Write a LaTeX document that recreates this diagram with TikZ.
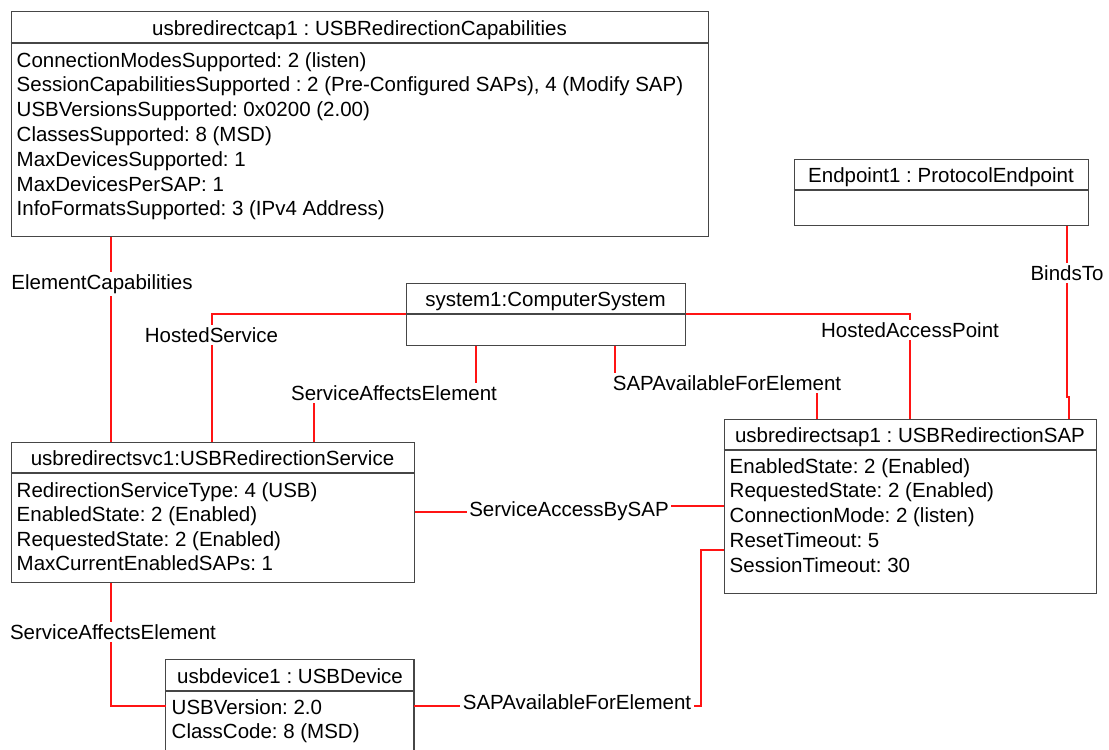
\documentclass[tikz,border=0pt]{standalone}
\usepackage{fontspec}
\setmainfont{Liberation Sans}
\definecolor{boxgray}{RGB}{70,70,70}
\definecolor{linered}{RGB}{255,20,20}
\begin{document}
\frenchspacing
\begin{tikzpicture}[x=1pt,y=-1pt,
  every node/.style={font=\fontsize{20.5}{24.8}\selectfont},
  umlbox/.style={draw=boxgray, line width=1.2pt, anchor=north west, inner sep=0pt},
  openbox/.style={anchor=north west, inner sep=0pt},
  sepline/.style={draw=boxgray, line width=2pt},
  conn/.style={draw=linered, line width=1.6pt},
  lbl/.style={fill=white, inner sep=2.5pt, anchor=base},
  ttl/.style={inner sep=0pt, anchor=base},
  attr/.style={inner sep=0pt, anchor=base west}
]
\useasboundingbox (0,0) rectangle (1109,750);

% boxes
\node[umlbox, minimum width=697pt, minimum height=225pt] (cap) at (10.5,10.5) {};
\node[umlbox, minimum width=294pt, minimum height=66pt] (ep) at (793.5,158.5) {};
\node[umlbox, minimum width=279pt, minimum height=62pt] (sys) at (405.5,282.5) {};
\node[umlbox, minimum width=403pt, minimum height=140pt] (svc) at (10.5,441.5) {};
\node[umlbox, minimum width=372pt, minimum height=174pt] (sap) at (723.5,418.5) {};
\node[openbox, minimum width=248pt, minimum height=92pt] (dev) at (165.5,659.5) {};
\draw[draw=boxgray, line width=1.2pt] (dev.south west) -- (dev.north west) -- (dev.north east) -- (dev.south east);

% header separators
\draw[sepline] ([yshift=-32.5pt]cap.north west) -- ([yshift=-32.5pt]cap.north east);
\draw[sepline] ([yshift=-31.5pt]ep.north west) -- ([yshift=-31.5pt]ep.north east);
\draw[sepline] ([yshift=-31.5pt]sys.north west) -- ([yshift=-31.5pt]sys.north east);
\draw[sepline] ([yshift=-31.5pt]svc.north west) -- ([yshift=-31.5pt]svc.north east);
\draw[sepline] ([yshift=-31.5pt]sap.north west) -- ([yshift=-31.5pt]sap.north east);
\draw[sepline] ([yshift=-31.5pt]dev.north west) -- ([yshift=-31.5pt]dev.north east);

% titles
\node[ttl] (capT) at (359.5,35) {usbredirectcap1 : USBRedirectionCapabilities};
\node[ttl] (epT) at (941,182) {Endpoint1 : ProtocolEndpoint};
\node[ttl] (sysT) at (545.5,306) {system1:ComputerSystem};
\node[ttl] (svcT) at (212.5,465) {usbredirectsvc1:USBRedirectionService};
\node[ttl] (sapT) at (910,442) {usbredirectsap1 : USBRedirectionSAP};
\node[ttl] (devT) at (290,683) {usbdevice1 : USBDevice};

% attributes
\node[attr] (capA1) at (16.5,67) {ConnectionModesSupported: 2 (listen)};
\node[attr] (capA2) at (16.5,91.8) {SessionCapabilitiesSupported : 2 (Pre-Configured SAPs), 4 (Modify SAP)};
\node[attr] (capA3) at (16.5,116.6) {USBVersionsSupported: 0x0200 (2.00)};
\node[attr] (capA4) at (16.5,141.4) {ClassesSupported: 8 (MSD)};
\node[attr] (capA5) at (16.5,166.2) {MaxDevicesSupported: 1};
\node[attr] (capA6) at (16.5,191) {MaxDevicesPerSAP: 1};
\node[attr] (capA7) at (16.5,215.8) {InfoFormatsSupported: 3 (IPv4 Address)};

\node[attr] (svcA1) at (16.5,497) {RedirectionServiceType: 4 (USB)};
\node[attr] (svcA2) at (16.5,521.6) {EnabledState: 2 (Enabled)};
\node[attr] (svcA3) at (16.5,546.2) {RequestedState: 2 (Enabled)};
\node[attr] (svcA4) at (16.5,570.8) {MaxCurrentEnabledSAPs: 1};

\node[attr] (sapA1) at (729.5,473) {EnabledState: 2 (Enabled)};
\node[attr] (sapA2) at (729.5,497.8) {RequestedState: 2 (Enabled)};
\node[attr] (sapA3) at (729.5,522.6) {ConnectionMode: 2 (listen)};
\node[attr] (sapA4) at (729.5,547.4) {ResetTimeout: 5};
\node[attr] (sapA5) at (729.5,572.2) {SessionTimeout: 30};

\node[attr] (devA1) at (171.5,714) {USBVersion: 2.0};
\node[attr] (devA2) at (171.5,738.8) {ClassCode: 8 (MSD)};

% connectors
\draw[conn] ([xshift=100.5pt]cap.south west) -- ([xshift=100.5pt]svc.north west);
\draw[conn] ([yshift=-31.5pt]sys.north west) -| ([xshift=201.5pt]svc.north west);
\draw[conn] ([xshift=70.5pt]sys.south west) -- ++(0,47) -| ([xshift=303.5pt]svc.north west);
\draw[conn] ([xshift=209.5pt]sys.south west) -- ++(0,38) -| ([xshift=93.5pt]sap.north west);
\draw[conn] ([yshift=-31.5pt]sys.north east) -| ([xshift=186.5pt]sap.north west);
\draw[conn] ([xshift=273.5pt]ep.south west) -- ++(0,171) -- ++(2,0) -- ([xshift=345.5pt]sap.north west);
\draw[conn] ([yshift=-70.5pt]svc.north east) -- ++(155,0) |- ([yshift=-87.5pt]sap.north west);
\draw[conn] ([xshift=100.5pt]svc.south west) |- ([yshift=-46.5pt]dev.north west);
\draw[conn] ([yshift=-46.5pt]dev.north east) -- ++(287,0) |- ([yshift=-131.5pt]sap.north west);

% connector labels
\node[lbl] (lEC) at (102,289) {ElementCapabilities};
\node[lbl] (lHS) at (211.5,342) {HostedService};
\node[lbl] (lSAE1) at (394,400) {ServiceAffectsElement};
\node[lbl] (lSAFE1) at (727,390) {SAPAvailableForElement};
\node[lbl] (lHAP) at (910,337) {HostedAccessPoint};
\node[lbl] (lBT) at (1067,280) {BindsTo};
\node[lbl] (lSABS) at (569,516) {ServiceAccessBySAP};
\node[lbl] (lSAE2) at (113,639) {ServiceAffectsElement};
\node[lbl] (lSAFE2) at (577,709) {SAPAvailableForElement};
\end{tikzpicture}
\end{document}
